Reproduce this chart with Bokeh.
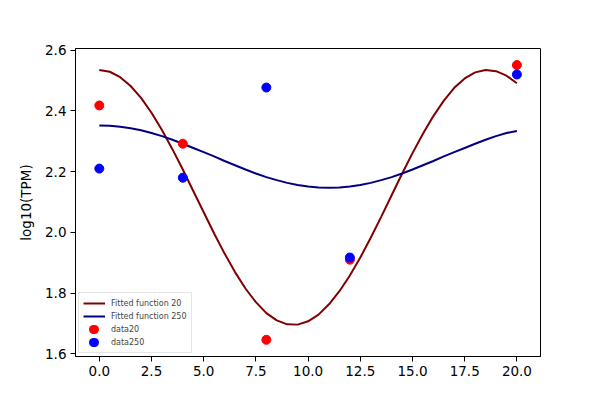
from bokeh.plotting import figure
from bokeh.models import FixedTicker, PrintfTickFormatter, Range1d, Legend, LegendItem
from bokeh.embed import file_html
from bokeh.resources import INLINE

# measured data points
t_data = [0, 4, 8, 12, 20]
data20 = [2.418, 2.292, 1.646, 1.910, 2.551]
data250 = [2.210, 2.180, 2.477, 1.917, 2.520]

# fitted curves at 0.5 steps
t_fit = [0, 0.5, 1, 1.5, 2, 2.5, 3, 3.5, 4, 4.5, 5, 5.5, 6, 6.5, 7, 7.5, 8, 8.5, 9, 9.5,
         10, 10.5, 11, 11.5, 12, 12.5, 13, 13.5, 14, 14.5, 15, 15.5, 16, 16.5, 17, 17.5,
         18, 18.5, 19, 19.5, 20]
fit20 = [2.535, 2.529, 2.511, 2.482, 2.443, 2.394, 2.337, 2.274, 2.207, 2.136, 2.066,
         1.996, 1.930, 1.869, 1.815, 1.770, 1.734, 1.710, 1.697, 1.696, 1.707, 1.729,
         1.763, 1.806, 1.858, 1.917, 1.982, 2.051, 2.122, 2.193, 2.261, 2.325, 2.383,
         2.434, 2.476, 2.507, 2.527, 2.535, 2.531, 2.516, 2.491]
fit250 = [2.352, 2.351, 2.348, 2.343, 2.336, 2.327, 2.317, 2.305, 2.292, 2.278, 2.264,
          2.250, 2.235, 2.221, 2.207, 2.194, 2.182, 2.172, 2.163, 2.156, 2.151, 2.148,
          2.147, 2.148, 2.151, 2.156, 2.163, 2.172, 2.182, 2.194, 2.207, 2.221, 2.235,
          2.250, 2.264, 2.278, 2.292, 2.305, 2.317, 2.327, 2.334]

x_ticks = [0, 2.5, 5, 7.5, 10, 12.5, 15, 17.5, 20]
y_ticks = [1.6, 1.8, 2.0, 2.2, 2.4, 2.6]
y_label = "log10(TPM)"

p = figure(output_backend="svg", toolbar_location=None,
           frame_width=465, frame_height=308,
           min_border_left=75, min_border_right=44, min_border_top=48, min_border_bottom=28,
           x_range=Range1d(-1.14, 21.13), y_range=Range1d(1.591, 2.6056))
p.background_fill_color = "white"
p.border_fill_color = "white"
p.outline_line_color = "black"
p.outline_line_width = 1
p.xgrid.visible = False
p.ygrid.visible = False

for ax in (p.xaxis, p.yaxis):
    ax.axis_line_color = "black"
    ax.major_tick_line_color = "black"
    ax.major_tick_out = 5
    ax.major_tick_in = 0
    ax.minor_tick_line_color = None
    ax.major_label_text_font = "DejaVu Sans"
    ax.major_label_text_font_size = "13.5px"
    ax.major_label_text_color = "black"
    ax.major_label_standoff = 4
    ax.formatter = PrintfTickFormatter(format="%.1f")

p.xaxis.ticker = FixedTicker(ticks=x_ticks)
p.yaxis.ticker = FixedTicker(ticks=y_ticks)
p.yaxis.axis_label = y_label
p.yaxis.axis_label_text_font = "DejaVu Sans"
p.yaxis.axis_label_text_font_size = "13.5px"
p.yaxis.axis_label_text_font_style = "normal"
p.yaxis.axis_label_text_color = "black"
p.yaxis.axis_label_standoff = 8

l20 = p.line(t_fit, fit20, line_color="#800000", line_width=2)
l250 = p.line(t_fit, fit250, line_color="#000080", line_width=2)
s20 = p.scatter(t_data, data20, size=9, fill_color="red", line_color="red")
s250 = p.scatter(t_data, data250, size=9, fill_color="blue", line_color="blue")

# legend-only swatches (no visible data): a single round dot from a dashed, round-capped line
nan = float("nan")
k20 = p.line(x=[nan], y=[nan], line_color="red", line_width=9, line_cap="round",
             line_dash="1 100", line_dash_offset=91)
k250 = p.line(x=[nan], y=[nan], line_color="blue", line_width=9, line_cap="round",
              line_dash="1 100", line_dash_offset=91)

legend = Legend(items=[
    LegendItem(label="Fitted function 20", renderers=[l20]),
    LegendItem(label="Fitted function 250", renderers=[l250]),
    LegendItem(label="data20", renderers=[s20, k20]),
    LegendItem(label="data250", renderers=[s250, k250]),
], location="bottom_left")
legend.margin = 3
legend.padding = 4
legend.spacing = 1
legend.glyph_width = 22
legend.glyph_height = 12
legend.label_height = 12
legend.label_standoff = 6
legend.label_text_font = "DejaVu Sans"
legend.label_text_font_size = "8px"
legend.border_line_color = "#cccccc"
legend.border_line_width = 1
legend.background_fill_alpha = 0.8
p.add_layout(legend)

open("out.html", "w").write(file_html(p, INLINE))
